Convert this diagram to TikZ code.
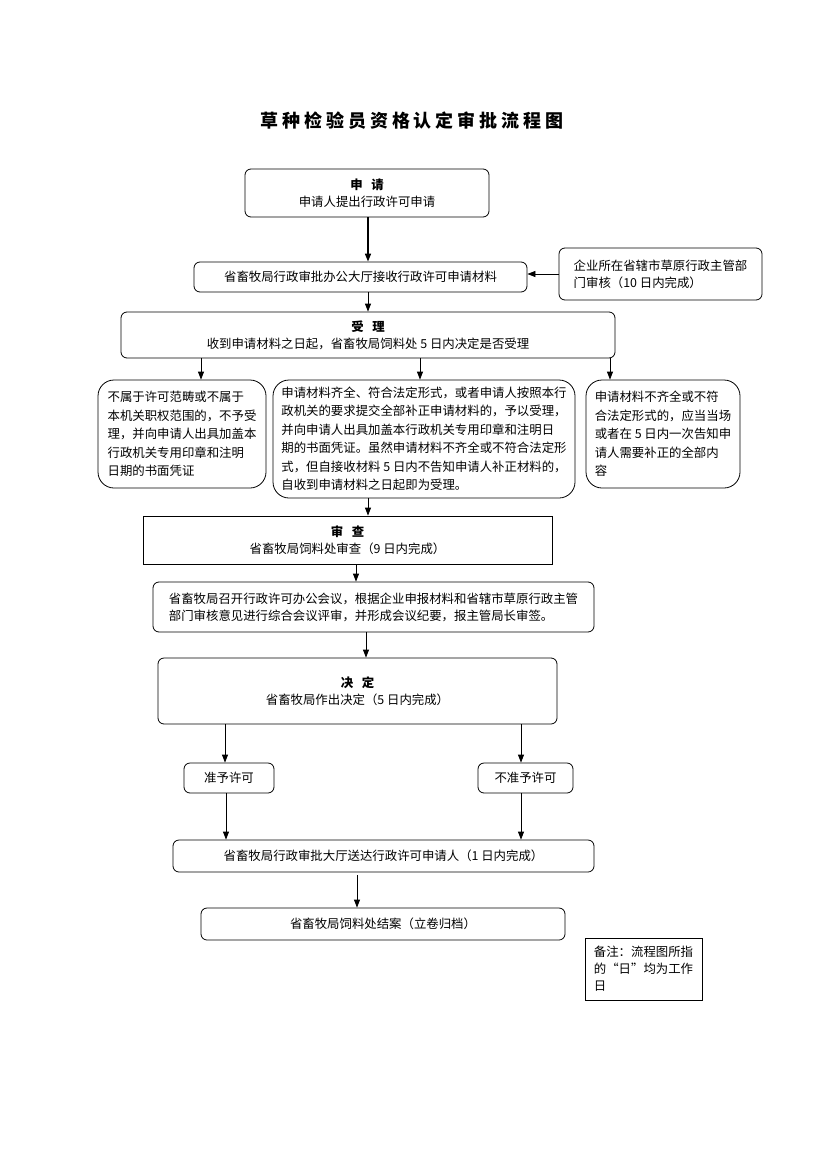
\documentclass[tikz,border=0pt]{standalone}
\usepackage{fontspec}
\setmainfont{Noto Sans CJK SC}
\usetikzlibrary{positioning,arrows.meta,calc}

\begin{document}
\begin{tikzpicture}[x=1pt,y=-1pt,
    font=\fontsize{12.4}{17}\selectfont,
    box/.style={draw,line width=0.8pt,rounded corners=6pt,inner sep=2pt},
    sidebox/.style={draw,line width=0.8pt,rounded corners=16pt,inner sep=2pt,
        align=left,font=\fontsize{12.4}{18.5}\selectfont},
    plainbox/.style={draw,line width=0.8pt,inner sep=2pt},
    arr/.style={line width=0.8pt,-{Triangle[length=8pt,width=6pt]}}]
    \useasboundingbox (0,0) rectangle (827,1169);

    % Title
    \node (title) at (412,121) {\fontsize{18}{20}\selectfont\bfseries\addfontfeature{LetterSpace=22}草种检验员资格认定审批流程图};

    % Application
    \node[box,minimum width=244,minimum height=48,align=center] (apply) at (367,193) {
        \textbf{申\hspace{0.7em}请}\\
        申请人提出行政许可申请};

    % Receiving materials
    \node[box,minimum width=333,minimum height=30] (recv) at (360.5,277)
        {省畜牧局行政审批办公大厅接收行政许可申请材料};

    % Municipal review
    \node[box,minimum width=203,minimum height=52,align=left] (firm) at (660.5,274) {
        企业所在省辖市草原行政主管部\\
        门审核（10 日内完成）};

    % Acceptance
    \node[box,minimum width=494,minimum height=46,align=center] (accept) at (368,335) {
        \textbf{受\hspace{0.7em}理}\\
        收到申请材料之日起，省畜牧局饲料处 5 日内决定是否受理};

    % Not accepted
    \node[sidebox,minimum width=168,minimum height=108] (noacc) at (182,434) {
        不属于许可范畴或不属于\\
        本机关职权范围的，不予受\\
        理，并向申请人出具加盖本\\
        行政机关专用印章和注明\\
        日期的书面凭证};

    % Accepted
    \node[sidebox,minimum width=302,minimum height=118] (ok) at (424,439) {
        申请材料齐全、符合法定形式，或者申请人按照本行\\
        政机关的要求提交全部补正申请材料的，予以受理，\\
        并向申请人出具加盖本行政机关专用印章和注明日\\
        期的书面凭证。虽然申请材料不齐全或不符合法定形\\
        式，但自接收材料 5 日内不告知申请人补正材料的，\\
        自收到申请材料之日起即为受理。};

    % Materials to be completed
    \node[sidebox,minimum width=154,minimum height=108] (fix) at (663,434) {
        申请材料不齐全或不符\\
        合法定形式的，应当当场\\
        或者在 5 日内一次告知申\\
        请人需要补正的全部内\\
        容};

    % Review
    \node[plainbox,minimum width=409,minimum height=48,align=center] (review) at (347.5,540) {
        \textbf{审\hspace{0.7em}查}\\
        省畜牧局饲料处审查（9 日内完成）};

    % Meeting
    \node[box,minimum width=441,minimum height=50,align=left] (meet) at (373.5,607) {
        省畜牧局召开行政许可办公会议，根据企业申报材料和省辖市草原行政主管\\
        部门审核意见进行综合会议评审，并形成会议纪要，报主管局长审签。};

    % Decision
    \node[box,minimum width=399,minimum height=66,align=center] (decide) at (357.5,691) {
        \textbf{决\hspace{0.7em}定}\\
        省畜牧局作出决定（5 日内完成）};

    % Permit / no permit
    \node[box,minimum width=90,minimum height=30] (grant) at (229,778) {准予许可};
    \node[box,minimum width=95,minimum height=30] (deny) at (525.5,778) {不准予许可};

    % Delivery
    \node[box,minimum width=421,minimum height=32] (deliver) at (383.5,856)
        {省畜牧局行政审批大厅送达行政许可申请人（1 日内完成）};

    % Closing
    \node[box,minimum width=364,minimum height=32] (close) at (383,924)
        {省畜牧局饲料处结案（立卷归档）};

    % Note
    \node[plainbox,minimum width=117,minimum height=62,align=left] (note) at (643.5,969) {
        备注：流程图所指\\
        的“日”均为工作\\
        日};

    % Connectors
    \draw[arr,line width=1.5pt] ([xshift=1pt]apply.south) -- ([xshift=1pt]apply.south |- recv.north);
    \draw[arr] (firm.west) -- (firm.west -| recv.east);
    \draw[arr] ([xshift=1pt]apply.south |- recv.south) -- ([xshift=1pt]apply.south |- accept.north);
    \draw[arr] ([xshift=19pt]noacc.north |- accept.south) -- ([xshift=19pt]noacc.north);
    \draw[arr] ([xshift=-4pt]ok.north |- accept.south) -- ([xshift=-4pt]ok.north);
    \draw[arr] ([xshift=-53pt]fix.north |- accept.south) -- ([xshift=-53pt]fix.north);
    \draw[arr] ([xshift=-56pt]ok.south) -- ([xshift=-56pt]ok.south |- review.north);
    \draw[arr] ([xshift=8.5pt]review.south) -- ([xshift=8.5pt]review.south |- meet.north);
    \draw[arr] ([xshift=-7.5pt]meet.south) -- ([xshift=-7.5pt]meet.south |- decide.north);
    \draw[arr] ([xshift=-4pt]grant.north |- decide.south) -- ([xshift=-4pt]grant.north);
    \draw[arr] ([xshift=-4.5pt]deny.north |- decide.south) -- ([xshift=-4.5pt]deny.north);
    \draw[arr] ([xshift=-3pt]grant.south) -- ([xshift=-3pt]grant.south |- deliver.north);
    \draw[arr] ([xshift=-4.5pt]deny.south) -- ([xshift=-4.5pt]deny.south |- deliver.north);
    \draw[arr] ([xshift=-26pt,yshift=-3pt]close.north |- deliver.south) -- ([xshift=-26pt]close.north);
\end{tikzpicture}
\end{document}
